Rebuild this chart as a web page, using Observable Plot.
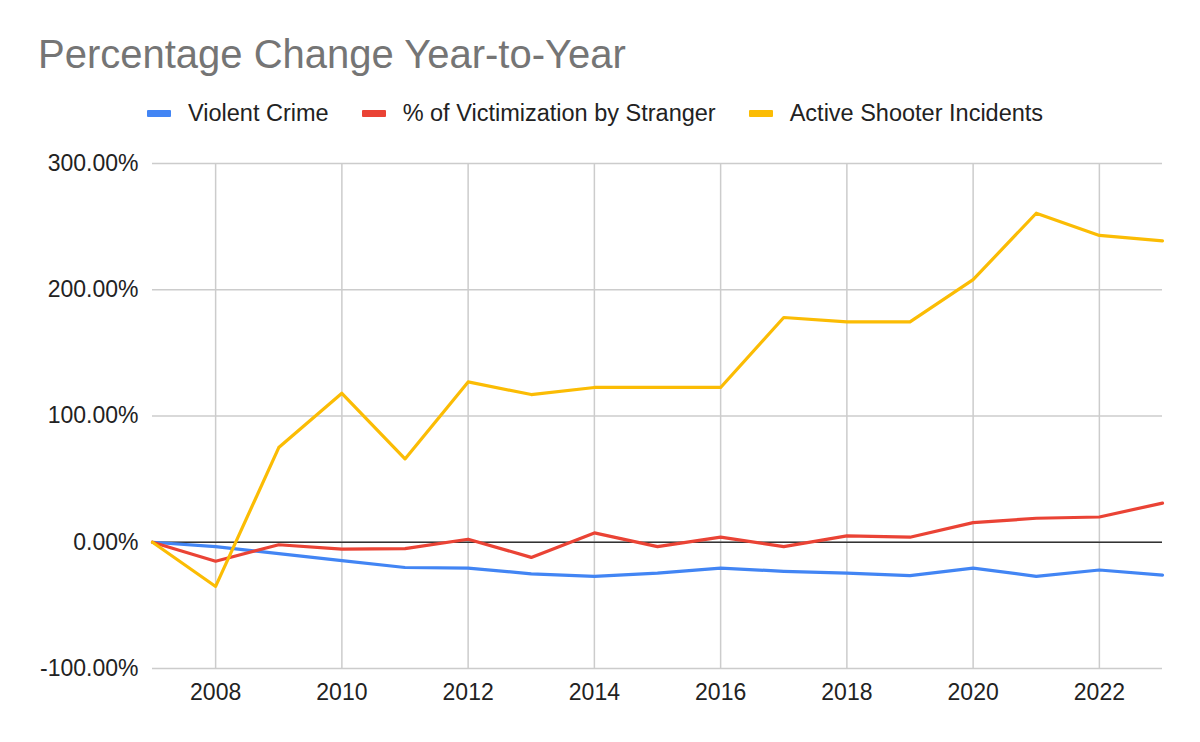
<!DOCTYPE html>
<html>
<head>
<meta charset="utf-8">
<script src="https://cdn.jsdelivr.net/npm/d3@7"></script>
<script src="https://cdn.jsdelivr.net/npm/@observablehq/plot@0.6"></script>
<style>
  html, body { margin: 0; padding: 0; background: #fff; }
  #wrap { position: relative; width: 1200px; height: 742px; overflow: hidden; font-family: "Liberation Sans", Arial, sans-serif; }
  #header { position: relative; width: 1200px; height: 140px; }
  #title { position: absolute; left: 38px; top: 34px; font-size: 40px; line-height: 40px; color: #757575; white-space: nowrap; }
  #legend { position: absolute; left: 147px; top: 102px; display: flex; align-items: center; font-size: 23.5px; line-height: 23.5px; color: #222; white-space: nowrap; }
  .item { display: flex; align-items: center; margin-right: 33px; }
  .sw { width: 24px; height: 7px; margin-right: 17px; border-radius: 1px; }
</style>
</head>
<body>
<div id="wrap">
  <div id="header">
    <div id="title">Percentage Change Year-to-Year</div>
    <div id="legend"></div>
  </div>
  <div id="chart"></div>
</div>
<script>
const years = [2007, 2008, 2009, 2010, 2011, 2012, 2013, 2014, 2015, 2016, 2017, 2018, 2019, 2020, 2021, 2022, 2023];
const violentCrime = [0, -3.5, -9, -14.5, -20, -20.5, -25, -27, -24.5, -20.5, -23, -24.5, -26.5, -20.5, -27, -22, -26];
const strangerVictimization = [0, -15, -2, -5.5, -5, 2.4, -12, 7.4, -3.5, 4, -3.5, 5, 4, 15.5, 19, 20, 31];
const activeShooter = [0, -35, 75, 118, 66, 127, 117, 122.6, 122.6, 122.6, 178, 174.6, 174.6, 208, 260.6, 243, 238.7];

const seriesNames = ["Violent Crime", "% of Victimization by Stranger", "Active Shooter Incidents"];
const seriesColors = ["#4285F4", "#EA4335", "#FBBC04"];
const seriesValues = [violentCrime, strangerVictimization, activeShooter];

const xTicks = [2008, 2010, 2012, 2014, 2016, 2018, 2020, 2022];
const yTicks = [-100, 0, 100, 200, 300];

const data = [];
seriesNames.forEach((name, i) => {
  years.forEach((yr, j) => data.push({series: name, year: yr, value: seriesValues[i][j]}));
});

const legend = document.getElementById("legend");
seriesNames.forEach((name, i) => {
  const it = document.createElement("div");
  it.className = "item";
  const sw = document.createElement("div");
  sw.className = "sw";
  sw.style.background = seriesColors[i];
  const tx = document.createElement("span");
  tx.textContent = name;
  it.appendChild(sw); it.appendChild(tx);
  legend.appendChild(it);
});

const chart = Plot.plot({
  width: 1200,
  height: 602,
  marginTop: 23,
  marginBottom: 74,
  marginLeft: 152,
  marginRight: 38,
  style: { fontFamily: "'Liberation Sans', Arial, sans-serif", fontSize: "23px", color: "#222", background: "#fff" },
  x: { domain: [2007, 2023] },
  y: { domain: [-100, 300] },
  color: { domain: seriesNames, range: seriesColors },
  marks: [
    Plot.gridX(xTicks, { stroke: "#ccc", strokeOpacity: 1, strokeWidth: 1.5 }),
    Plot.gridY(yTicks, { stroke: "#ccc", strokeOpacity: 1, strokeWidth: 1.5 }),
    Plot.ruleY([0], { stroke: "#333", strokeWidth: 1.5 }),
    Plot.line(data, { x: "year", y: "value", z: "series", stroke: "series", strokeWidth: 3.2, strokeLinejoin: "round" }),
    Plot.axisX(xTicks, { tickSize: 0, tickPadding: 15, tickFormat: d => String(d), fontSize: 23, label: null }),
    Plot.axisY(yTicks, { tickSize: 0, tickPadding: 14, tickFormat: d => d.toFixed(2) + "%", fontSize: 23, label: null })
  ]
});
document.getElementById("chart").appendChild(chart);
</script>
</body>
</html>
